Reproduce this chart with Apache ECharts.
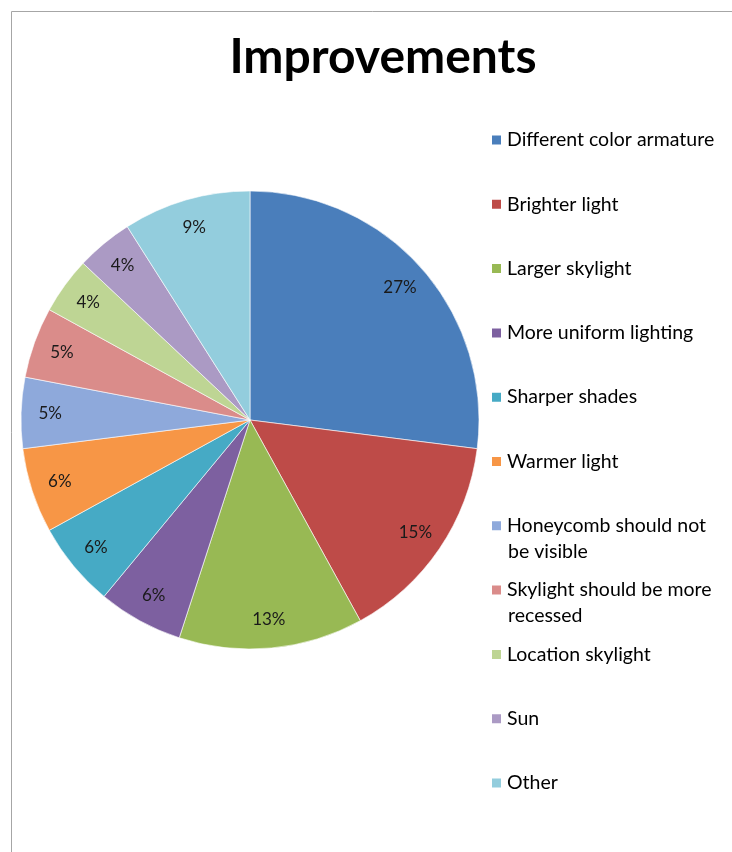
<!DOCTYPE html>
<html><head><meta charset="utf-8">
<script src="https://cdn.jsdelivr.net/npm/echarts@6/dist/echarts.min.js"></script>
<style>html,body{margin:0;padding:0;background:#fff}#c{width:732px;height:852px}</style>
</head><body><div id="c"></div>
<script>
const categories = ["Different color armature","Brighter light","Larger skylight","More uniform lighting","Sharper shades","Warmer light","Honeycomb should not be visible","Skylight should be more recessed","Location skylight","Sun","Other"];
const legendLines = [["Different color armature"],["Brighter light"],["Larger skylight"],["More uniform lighting"],["Sharper shades"],["Warmer light"],["Honeycomb should not","be visible"],["Skylight should be more","recessed"],["Location skylight"],["Sun"],["Other"]];
const values = [27,15,13,6,6,6,5,5,4,4,9];
const colors = ["#4A7EBB","#BE4B48","#98B954","#7D60A0","#46AAC5","#F79646","#8EA9DB","#DA8C8A","#BED594","#AB9AC4","#93CDDD"];
const FONT = "Lato";
const data = categories.map((n,i)=>({name:n, value:values[i], itemStyle:{color:colors[i]}}));
const cx = 250, cy = 420, R = 229;
const legendTop0 = 124, legendStep = 64.3;
const legends = categories.map((n,i)=>({
  data:[n], orient:'vertical', left:485, top: legendTop0 + i*legendStep,
  itemWidth:11, itemHeight:11, itemGap:0, icon:'rect', selectedMode:false,
  textStyle:{fontFamily:FONT, fontSize:19.5, color:'#000', lineHeight:22},
  formatter: ()=>legendLines[i][0]
}));
const graphics = [{type:'rect', shape:{x:11.5,y:11.5,width:900,height:1000}, style:{fill:'none', stroke:'#A6A6A6', lineWidth:1}, silent:true}];
legendLines.forEach((l,i)=>{ if(l.length>1){ graphics.push({type:'text', left:508, top: legendTop0 + i*legendStep + 32, style:{text:l[1], font:'19.5px '+FONT, fill:'#000'}}); }});
const chart = echarts.init(document.getElementById('c'));
chart.setOption({
  animation:false,
  title:{text:'Improvements', left:378, top:29, textAlign:'center', textStyle:{fontFamily:FONT, fontWeight:'bold', fontSize:48, color:'#000'}},
  legend: legends,
  graphic: graphics,
  series:[
    {type:'pie', center:[cx,cy], radius:R, startAngle:90, clockwise:true, data:data,
     itemStyle:{borderColor:'#fff', borderWidth:0.6}, label:{show:false}, labelLine:{show:false}, silent:true},
    {type:'pie', center:[cx,cy], radius:[R*0.72,R], startAngle:90, clockwise:true, data:data.map(d=>({name:d.name,value:d.value})),
     itemStyle:{color:'rgba(0,0,0,0)', borderWidth:0}, silent:true, labelLine:{show:false},
     label:{show:true, position:'inside', formatter:'{c}%', fontFamily:FONT, fontSize:17, color:'#1a1a1a'}}
  ]
});
</script></body></html>
